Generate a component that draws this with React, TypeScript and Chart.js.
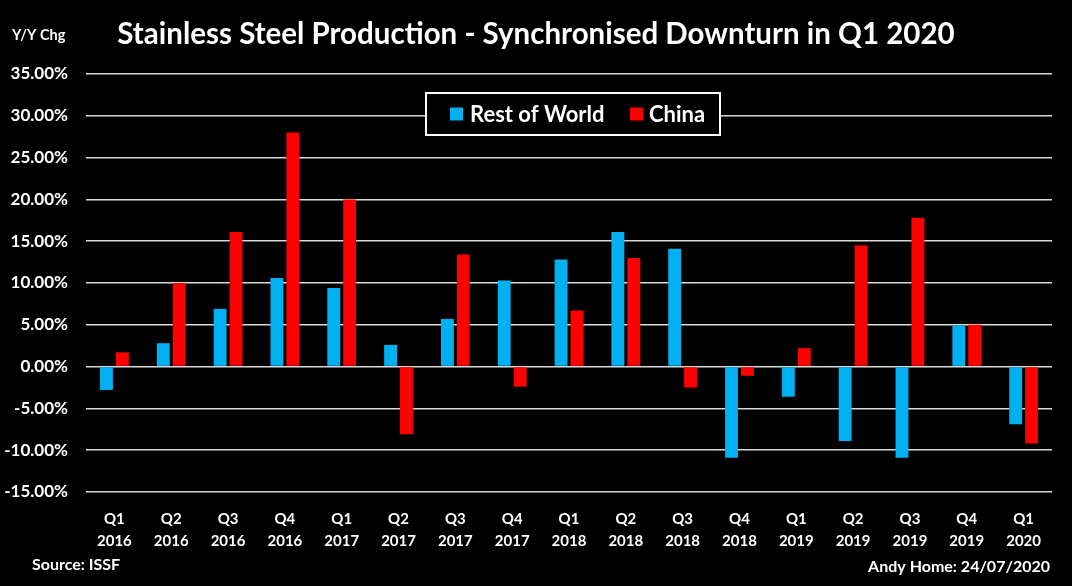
import React, { useEffect, useRef } from "react";
import { Chart, registerables } from "chart.js";

Chart.register(...registerables);

const quarters = ["Q1", "Q2", "Q3", "Q4", "Q1", "Q2", "Q3", "Q4", "Q1", "Q2", "Q3", "Q4", "Q1", "Q2", "Q3", "Q4", "Q1"];
const years = ["2016", "2016", "2016", "2016", "2017", "2017", "2017", "2017", "2018", "2018", "2018", "2018", "2019", "2019", "2019", "2019", "2020"];
const restOfWorld = [-2.8, 2.8, 6.9, 10.6, 9.4, 2.6, 5.7, 10.3, 12.8, 16.1, 14.1, -10.9, -3.6, -8.9, -10.9, 4.9, -6.9];
const china = [1.7, 10.0, 16.1, 28.0, 20.0, -8.1, 13.4, -2.4, 6.7, 13.0, -2.5, -1.1, 2.2, 14.5, 17.8, 5.0, -9.2];
const yTicks = [-15, -10, -5, 0, 5, 10, 15, 20, 25, 30, 35];

const TITLE = "Stainless Steel Production - Synchronised Downturn in Q1 2020";
const Y_LABEL = "Y/Y Chg";
const SOURCE = "Source: ISSF";
const CREDIT = "Andy Home: 24/07/2020";
const FONT = "Lato, 'Open Sans', sans-serif";

const decorPlugin = {
  id: "decor",
  beforeDraw(chart: any) {
    const { ctx, width, height } = chart;
    ctx.save();
    ctx.fillStyle = "#000000";
    ctx.fillRect(0, 0, width, height);
    ctx.restore();
  },
  afterDraw(chart: any) {
    const { ctx } = chart;
    ctx.save();
    ctx.fillStyle = "#ffffff";
    ctx.textBaseline = "middle";
    // title
    ctx.font = `bold 29.5px ${FONT}`;
    ctx.textAlign = "center";
    ctx.fillText(TITLE, 536, 34);
    // y label
    ctx.font = `bold 14.5px ${FONT}`;
    ctx.textAlign = "left";
    ctx.fillText(Y_LABEL, 12, 35);
    // footer
    ctx.font = `bold 16px ${FONT}`;
    ctx.textAlign = "left";
    ctx.fillText(SOURCE, 32, 565);
    ctx.textAlign = "right";
    ctx.fillText(CREDIT, 1050, 567);

    // legend
    const bx = 426, by = 93, bw = 294, bh = 42;
    ctx.fillStyle = "#000000";
    ctx.fillRect(bx, by, bw, bh);
    ctx.strokeStyle = "#ffffff";
    ctx.lineWidth = 2;
    ctx.strokeRect(bx, by, bw, bh);
    ctx.font = `bold 22px ${FONT}`;
    ctx.textAlign = "left";
    const cy = by + bh / 2;
    const ds = chart.data.datasets;
    const items = [
      { x: 450, tx: 470 },
      { x: 630, tx: 649 },
    ];
    ds.forEach((d: any, i: number) => {
      const it = items[i];
      ctx.fillStyle = d.backgroundColor;
      ctx.fillRect(it.x, cy - 6.5, 13, 13);
      ctx.fillStyle = "#ffffff";
      ctx.fillText(d.label, it.tx, cy + 1);
    });
    ctx.restore();
  },
};

export default function App() {
  const ref = useRef<HTMLCanvasElement>(null);

  useEffect(() => {
    document.body.style.margin = "0";
    document.body.style.background = "#000";
    const labels = quarters.map((q, i) => [q, years[i]]);
    const chart = new Chart(ref.current as HTMLCanvasElement, {
      type: "bar",
      data: {
        labels,
        datasets: [
          {
            label: "Rest of World",
            data: restOfWorld,
            backgroundColor: "#00B0F0",
            categoryPercentage: 0.56,
            barPercentage: 0.81,
          },
          {
            label: "China",
            data: china,
            backgroundColor: "#FF0000",
            categoryPercentage: 0.56,
            barPercentage: 0.81,
          },
        ],
      },
      options: {
        animation: false,
        responsive: true,
        maintainAspectRatio: false,
        layout: { padding: { top: 74, right: 20, bottom: 0, left: 0 } },
        plugins: {
          legend: { display: false },
          title: { display: false },
          tooltip: { enabled: false },
        },
        scales: {
          x: {
            grid: { display: false },
            border: { display: false },
            afterFit: (s: any) => {
              s.height = 94;
            },
            ticks: {
              color: "#ffffff",
              autoSkip: false,
              maxRotation: 0,
              padding: 8,
              font: { family: FONT, weight: "bold", size: 15, lineHeight: 1.47 },
            },
          },
          y: {
            min: -15,
            max: 35,
            afterFit: (s: any) => {
              s.width = 86;
            },
            afterBuildTicks: (s: any) => {
              s.ticks = yTicks.map((v) => ({ value: v }));
            },
            grid: { color: "#d9d9d9", lineWidth: 1.5, drawTicks: false },
            border: { display: false },
            ticks: {
              color: "#ffffff",
              padding: 18,
              font: { family: FONT, weight: "bold", size: 17 },
              callback: (v: any) => Number(v).toFixed(2) + "%",
            },
          },
        },
      },
      plugins: [decorPlugin],
    } as any);
    return () => chart.destroy();
  }, []);

  return (
    <div style={{ position: "absolute", left: 0, top: 0, width: 1072, height: 586, background: "#000" }}>
      <canvas ref={ref} />
    </div>
  );
}
